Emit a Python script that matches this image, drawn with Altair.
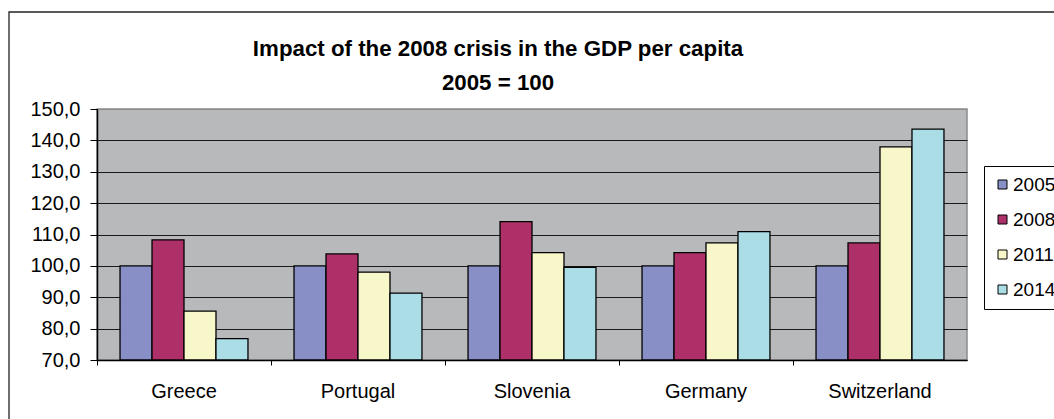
import altair as alt
import pandas as pd

# GDP per capita index (2005 = 100) by country and year
countries = ["Greece", "Portugal", "Slovenia", "Germany", "Switzerland"]
years = ["2005", "2008", "2011", "2014"]
v2005 = [100.0, 100.0, 100.0, 100.0, 100.0]
v2008 = [108.3, 103.8, 114.1, 104.2, 107.3]
v2011 = [85.6, 98.0, 104.2, 107.3, 137.9]
v2014 = [76.8, 91.3, 99.5, 110.9, 143.6]
colors = ["#888EC6", "#AD3168", "#F8F7C9", "#AADDE6"]

series = [v2005, v2008, v2011, v2014]
rows = []
for year, vals in zip(years, series):
    for country, v in zip(countries, vals):
        rows.append({"country": country, "year": year, "value": v})
df = pd.DataFrame(rows)

FONT = "Liberation Sans"
PLOT_W, PLOT_H = 870, 251
PAD_L, PAD_T, PAD_R, PAD_B = 97, 109, 87, 59

bars = alt.Chart(df).mark_bar(stroke="black", strokeWidth=1.3).encode(
    x=alt.X(
        "country:N",
        sort=countries,
        scale=alt.Scale(paddingInner=0, paddingOuter=0),
        axis=alt.Axis(
            title=None,
            labelAngle=0,
            labelFont=FONT,
            labelFontSize=20,
            labelColor="black",
            labelPadding=16,
            tickSize=5,
            tickColor="black",
            bandPosition=0,
            domainColor="black",
            domainWidth=1.5,
            grid=False,
        ),
    ),
    xOffset=alt.XOffset(
        "year:N", sort=years, scale=alt.Scale(paddingInner=0, paddingOuter=0.72)
    ),
    y=alt.Y(
        "value:Q",
        scale=alt.Scale(domain=[70, 150], zero=False, nice=False),
        axis=alt.Axis(
            title=None,
            values=[70, 80, 90, 100, 110, 120, 130, 140, 150],
            labelExpr="replace(format(datum.value, '.1f'), '.', ',')",
            labelFont=FONT,
            labelFontSize=20,
            labelColor="black",
            labelPadding=10,
            tickSize=7,
            tickColor="black",
            domainColor="black",
            domainWidth=1.5,
            grid=True,
            gridColor={
                "condition": {"test": "datum.value >= 150", "value": "#8c8c8c"},
                "value": "#1a1a1a",
            },
            gridWidth=1,
        ),
    ),
    y2=alt.datum(70),
    color=alt.Color(
        "year:N",
        sort=years,
        scale=alt.Scale(domain=years, range=colors),
        legend=alt.Legend(
            title=None,
            orient="none",
            legendX=887,
            legendY=57,
            fillColor="white",
            strokeColor="black",
            padding=9,
            symbolType="square",
            symbolSize=81,
            symbolStrokeColor="black",
            symbolStrokeWidth=1,
            labelFont=FONT,
            labelFontSize=19,
            labelColor="black",
            labelOffset=1,
            rowPadding=15,
        ),
    ),
)

# outer chart frame
frame = alt.Chart(pd.DataFrame({"f": [0]})).mark_rect(
    fillOpacity=0, stroke="#222222", strokeWidth=1.3
).encode(
    x=alt.value(9 - PAD_L),
    x2=alt.value(1054 - PAD_L + 20),
    y=alt.value(12 - PAD_T),
    y2=alt.value(419 - PAD_T + 20),
)

chart = alt.layer(bars, frame).properties(
    width=PLOT_W,
    height=PLOT_H,
    padding={"left": PAD_L, "top": PAD_T, "right": PAD_R, "bottom": PAD_B},
    autosize=alt.AutoSizeParams(type="none"),
    background="white",
    title=alt.TitleParams(
        text=["Impact of the 2008 crisis in the GDP per capita", "2005 = 100"],
        font=FONT,
        fontSize=22.3,
        fontWeight="bold",
        color="black",
        anchor="middle",
        dx=-34,
        dy=97,
        lineHeight=34,
        offset=14,
    ),
).configure_view(
    fill="#B8B9BB", stroke="#8c8c8c", strokeWidth=1.5
)

chart.save("out.html", embed_options={"renderer": "svg", "actions": False})
